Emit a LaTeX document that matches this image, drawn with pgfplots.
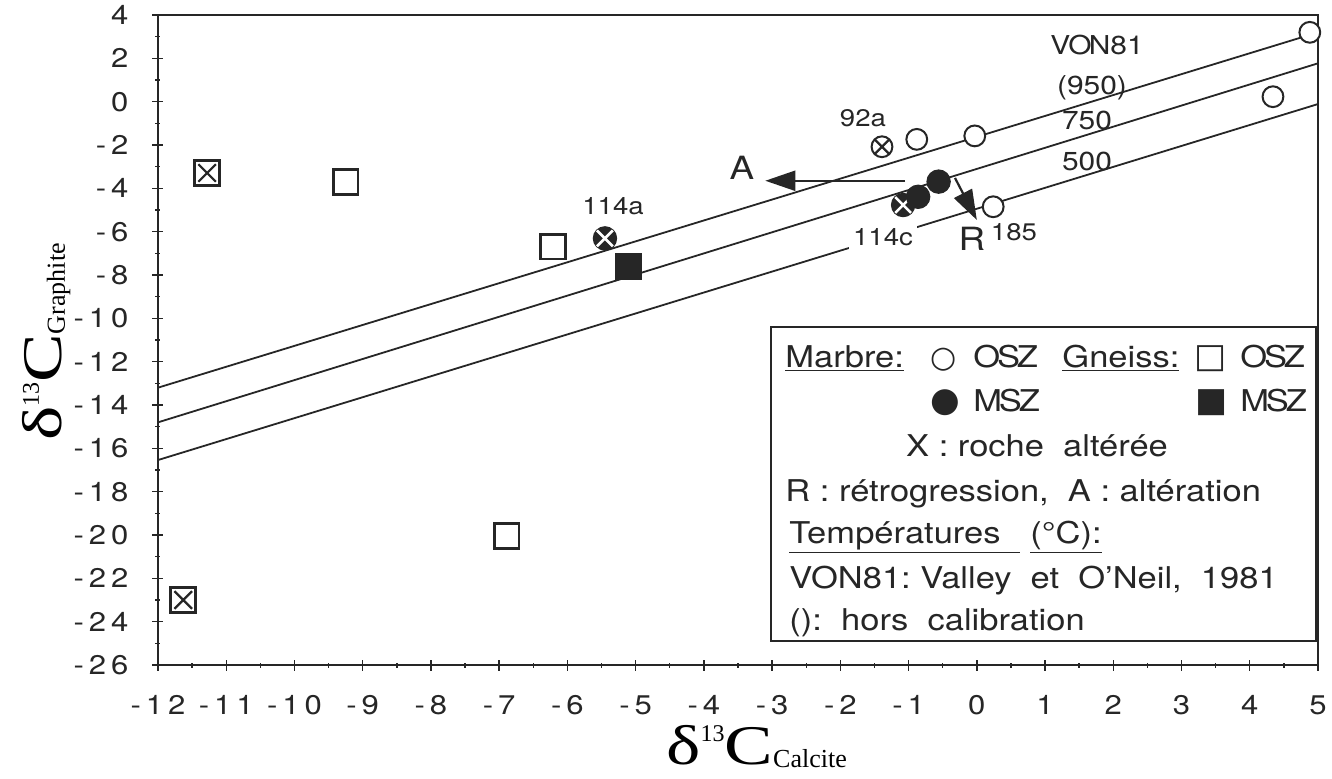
\documentclass[border=0pt]{standalone}
\usepackage{fontspec}
\setmainfont{TeX Gyre Heros}[FakeStretch=1.15]
\newfontfamily\serif{Liberation Serif}[FakeStretch=1.3]
\newfontfamily\serifn{Liberation Serif}
\newfontfamily\symf{DejaVu Sans}
\usepackage{pgfplots}
\pgfplotsset{compat=1.18}
\usetikzlibrary{arrows.meta}
\newcommand{\g}{\hspace{2.5pt}}
\newcommand{\lgd}{\fontsize{15}{17}\selectfont}
\newcommand{\lab}{\fontsize{12}{14}\selectfont}
\newcommand{\OSZ}{O\kern-1.6pt S\kern-1.6pt Z}
\newcommand{\MSZ}{M\kern-1.6pt S\kern-1.6pt Z}
\definecolor{ink}{HTML}{262626}

\begin{document}
\begin{tikzpicture}
\begin{axis}[
  scale only axis, width=580pt, height=325pt,
  xmin=-12, xmax=5, ymin=-26, ymax=4,
  axis line style={line width=0.8pt, ink},
  xtick={-12,...,5}, ytick={-26,-24,...,4},
  xticklabels={-\g1\g2,-\g1\g1,-\g1\g0,-\g9,-\g8,-\g7,-\g6,-\g5,-\g4,-\g3,-\g2,-\g1,0,1,2,3,4,5},
  yticklabels={-\g2\g6,-\g2\g4,-\g2\g2,-\g2\g0,-\g1\g8,-\g1\g6,-\g1\g4,-\g1\g2,-\g1\g0,-\g8,-\g6,-\g4,-\g2,0\hspace{3.5pt},2\hspace{3.5pt},4\hspace{3.5pt}},
  minor x tick num=1, minor y tick num=1,
  xtick pos=bottom, ytick pos=left,
  tick align=center,
  major tick length=5.5pt, minor tick length=2.5pt,
  tick style={line width=0.7pt, ink},
  tick label style={font=\fontsize{13.5}{15}\selectfont, text=ink},
  xticklabel style={yshift=-9pt},
  yticklabel style={xshift=-8.5pt},
  clip=false,
  xlabel={\serif\fontsize{28}{29}\selectfont δ\raisebox{11.5pt}{\serifn\fontsize{12}{13}\selectfont 13}C\raisebox{-1.5pt}{\serifn\fontsize{13}{14}\selectfont Calcite}},
  ylabel={\serif\fontsize{28}{29}\selectfont δ\raisebox{11.5pt}{\serifn\fontsize{12}{13}\selectfont 13}C\raisebox{-1.5pt}{\serifn\fontsize{13}{14}\selectfont Graphite}},
  xlabel style={at={(axis description cs:0.516,-0.1531)}, anchor=base, inner sep=0pt},
  ylabel style={at={(axis description cs:-0.0828,0.497)}, anchor=base, inner sep=0pt},
]
% calibration lines VON81
\addplot[line width=0.9pt, ink] coordinates {(-12,-13.2) (5,3.2)};
\addplot[line width=0.9pt, ink] coordinates {(-12,-14.8) (5,1.77)};
\addplot[line width=0.9pt, ink] coordinates {(-12,-16.54) (5,-0.11)};
% arrows
\addplot[line width=1.1pt, ink, -{Triangle[length=15pt,width=10pt]}] coordinates {(-1.05,-3.65) (-3.10,-3.65)};
\addplot[line width=1.1pt, ink, -{Triangle[length=15pt,width=10pt]}] coordinates {(-0.32,-3.52) (0.0,-5.46)};
% Gneiss OSZ (open squares)
\addplot[only marks, mark=square*, mark size=6.2pt, mark options={line width=1.4pt, draw=ink, fill=white}] coordinates {(-9.25,-3.72) (-6.89,-20.05) (-6.21,-6.69) (-11.28,-3.29) (-11.63,-23.0)};
% altered (X)
\addplot[only marks, mark=x, mark size=6.2pt, mark options={line width=1.1pt, draw=ink}] coordinates {(-11.28,-3.29) (-11.63,-23.0)};
% Gneiss MSZ (filled square)
\addplot[only marks, mark=square*, mark size=6.4pt, mark options={line width=0.8pt, draw=ink, fill=ink}] coordinates {(-5.11,-7.62)};
% Marbre OSZ (open circles)
\addplot[only marks, mark=*, mark size=5.2pt, mark options={line width=1pt, draw=ink, fill=white}] coordinates {(-0.88,-1.74) (-0.03,-1.58) (0.24,-4.85) (4.34,0.23) (4.88,3.2) (-1.39,-2.08)};
\addplot[only marks, mark=x, mark size=5.0pt, mark options={line width=1.1pt, draw=ink}] coordinates {(-1.39,-2.08)};
% Marbre MSZ altered (filled circle, white X)
\addplot[only marks, mark=*, mark size=5.8pt, mark options={line width=0.6pt, draw=ink, fill=ink}] coordinates {(-5.45,-6.31) (-1.08,-4.77)};
\addplot[only marks, mark=x, mark size=5.6pt, mark options={line width=1.3pt, draw=white}] coordinates {(-5.45,-6.31) (-1.08,-4.77)};
% Marbre MSZ (filled circles)
\addplot[only marks, mark=*, mark size=5.8pt, mark options={line width=0.6pt, draw=ink, fill=ink}] coordinates {(-0.86,-4.39) (-0.56,-3.69)};
\end{axis}
\begin{scope}[shift={(current axis.south west)}, x=0.5pt, y=-0.5pt, shift={(-158,-665)}]
\pgfresetboundingbox
\path[use as bounding box] (0,0) rectangle (1332,778);
% labels on plot
\node[text=ink, inner sep=0pt] at (863,118) {\lab 92a};
\node[text=ink, inner sep=0pt] at (613,206) {\lab 114a};
\node[text=ink, fill=white, inner sep=2pt] at (883,237) {\lab 114c};
\node[text=ink, inner sep=0pt] at (1014,232) {\lab 185};
\node[text=ink, inner sep=0pt] at (742,168) {\fontsize{16}{18}\selectfont A};
\node[text=ink, inner sep=0pt] at (972,239) {\fontsize{16}{18}\selectfont R};
\node[text=ink, inner sep=0pt] at (1097,45) {\fontsize{13}{15}\selectfont V\kern-1pt O\kern-1.4pt N81};
\node[text=ink, inner sep=0pt] at (1092,88) {\fontsize{13}{15}\selectfont (950)};
\node[text=ink, inner sep=0pt] at (1087,120) {\fontsize{13}{15}\selectfont 750};
\node[text=ink, inner sep=0pt] at (1087,161) {\fontsize{13}{15}\selectfont 500};
% legend box
\draw[line width=1.2pt, draw=ink, fill=white] (771,327) rectangle (1316,641);
\begin{scope}[every node/.style={text=ink, inner sep=0pt}]
\node[anchor=base west] at (785,367) {\lgd\underline{Marbre:}};
\node[anchor=base] at (944,367) {\symf\fontsize{15}{16}\selectfont ○};
\node[anchor=base west] at (973,367) {\lgd\OSZ};
\node[anchor=base west] at (1062,367) {\lgd\underline{Gneiss:}};
\node[anchor=base] at (1211,367) {\symf\fontsize{17}{18}\selectfont □};
\node[anchor=base west] at (1240,367) {\lgd\OSZ};
\node[anchor=base] at (945,411) {\symf\fontsize{17}{18}\selectfont ●};
\node[anchor=base west] at (973,411) {\lgd\MSZ};
\node[anchor=base] at (1212,411) {\symf\fontsize{17}{18}\selectfont ■};
\node[anchor=base west] at (1240,411) {\lgd\MSZ};
\node[anchor=base] at (1037,456) {\lgd X :\ roche\ \ altérée};
\node[anchor=base west] at (785,501) {\lgd R :\ rétrogression,\ \ A :\ altération};
\node[anchor=base west] at (789,543) {\lgd\underline{Températures\ \ }};
\node[anchor=base west] at (1030,543) {\lgd\underline{(°C):}};
\node[anchor=base west] at (789,588) {\lgd VON81:\ Valley\ \ et\ \ O'Neil,\ \ 1981};
\node[anchor=base west] at (789,630) {\lgd ():\ \ hors\ \ calibration};
\end{scope}
\end{scope}
\end{tikzpicture}
\end{document}
